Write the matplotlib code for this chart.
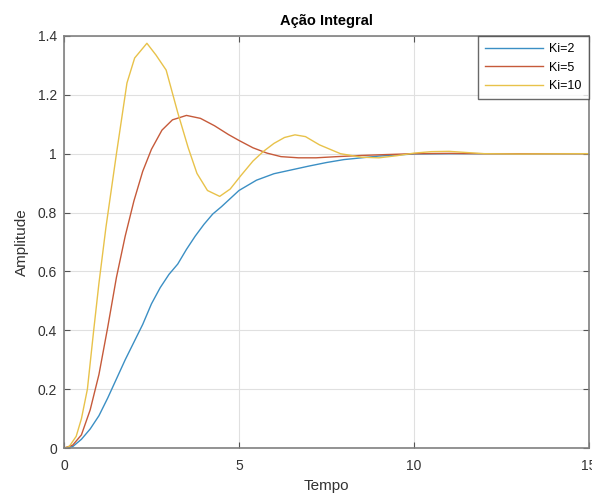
import matplotlib
matplotlib.use('Agg')
import matplotlib.pyplot as plt

# ─────────── data ───────────
t_ki2 = [0, 0.25, 0.5, 0.75, 1.0, 1.25, 1.5, 1.75, 2.0, 2.25, 2.5, 2.75, 3.0,
         3.25, 3.5, 3.75, 4.0, 4.25, 4.5, 5.0, 5.5, 6.0, 6.5, 7.0, 7.5, 8.0,
         9.0, 10.0, 11.0, 12.0, 15.0]
y_ki2 = [0, 0.005, 0.03, 0.065, 0.11, 0.17, 0.235, 0.3, 0.36, 0.42, 0.49, 0.545, 0.59,
         0.625, 0.675, 0.72, 0.76, 0.795, 0.82, 0.875, 0.91, 0.932, 0.945, 0.958, 0.97, 0.98,
         0.992, 0.999, 1.0, 1.0, 1.0]

t_ki5 = [0, 0.25, 0.5, 0.75, 1.0, 1.25, 1.5, 1.75, 2.0, 2.25, 2.5, 2.8, 3.1,
         3.5, 3.9, 4.3, 4.7, 5.0, 5.4, 5.8, 6.2, 6.7, 7.2, 7.8, 8.5, 9.2,
         10.0, 11.0, 12.0, 15.0]
y_ki5 = [0, 0.01, 0.045, 0.13, 0.25, 0.41, 0.58, 0.72, 0.84, 0.94, 1.015, 1.08, 1.115,
         1.13, 1.12, 1.095, 1.065, 1.045, 1.02, 1.002, 0.99, 0.986, 0.986, 0.99, 0.994, 0.997,
         1.0, 1.001, 1.0, 1.0]

t_ki10 = [0, 0.15, 0.35, 0.5, 0.67, 0.85, 1.0, 1.2, 1.5, 1.8, 2.02, 2.37, 2.63,
          2.92, 3.25, 3.55, 3.8, 4.1, 4.45, 4.75, 5.05, 5.4, 5.7, 6.0, 6.3, 6.6,
          6.9, 7.3, 7.9, 8.5, 9.0, 9.5, 10.0, 10.5, 11.0, 11.5, 12.0, 13.0, 15.0]
y_ki10 = [0, 0.005, 0.04, 0.1, 0.2, 0.4, 0.56, 0.75, 1.0, 1.24, 1.325, 1.375, 1.335,
          1.284, 1.14, 1.02, 0.933, 0.875, 0.855, 0.88, 0.925, 0.975, 1.008, 1.035, 1.055, 1.064,
          1.058, 1.03, 1.0, 0.988, 0.986, 0.993, 1.002, 1.007, 1.008, 1.004, 1.0, 0.999, 1.0]

labels = ['Ki=2', 'Ki=5', 'Ki=10']
colors = ['#3b8fc4', '#c65a3a', '#e8c24a']

xticks = [0, 5, 10, 15]
yticks = [0, 0.2, 0.4, 0.6, 0.8, 1.0, 1.2, 1.4]
ytick_labels = ['0', '0.2', '0.4', '0.6', '0.8', '1', '1.2', '1.4']

# ─────────── plot ───────────
plt.rcParams['font.family'] = ['Liberation Sans', 'DejaVu Sans']

fig = plt.figure(figsize=(5.92, 4.99), dpi=100)
ax = fig.add_axes([0.108, 0.102, 0.887, 0.826])

for t, y, lab, c in zip([t_ki2, t_ki5, t_ki10], [y_ki2, y_ki5, y_ki10], labels, colors):
    ax.plot(t, y, color=c, lw=1.0, label=lab)

ax.set_xlim(0, 15)
ax.set_ylim(0, 1.4)
ax.set_xticks(xticks)
ax.set_yticks(yticks)
ax.set_yticklabels(ytick_labels)
ax.grid(True, color='#e0e0e0', lw=0.8)
ax.set_axisbelow(True)
ax.tick_params(direction='in', length=4, top=True, right=True,
               labelsize=10, colors='#555555', labelcolor='#333333')
ax.tick_params(axis='x', pad=8)
ax.tick_params(axis='y', pad=5)
for s in ax.spines.values():
    s.set_color('#808080')
    s.set_linewidth(1.2)

ax.set_title('Ação Integral', fontsize=10.5, fontweight='bold', pad=8)
ax.set_xlabel('Tempo', fontsize=11, color='#333333', labelpad=4)
ax.set_ylabel('Amplitude', fontsize=11, color='#333333', labelpad=6)

leg = ax.legend(loc='upper right', fontsize=9, frameon=True, fancybox=False,
                handlelength=4.6, borderaxespad=0.0, labelspacing=0.5,
                borderpad=0.6, handletextpad=0.5)
leg.get_frame().set_edgecolor('#444444')
leg.get_frame().set_linewidth(1.0)

fig.savefig('out.png', dpi=100)
